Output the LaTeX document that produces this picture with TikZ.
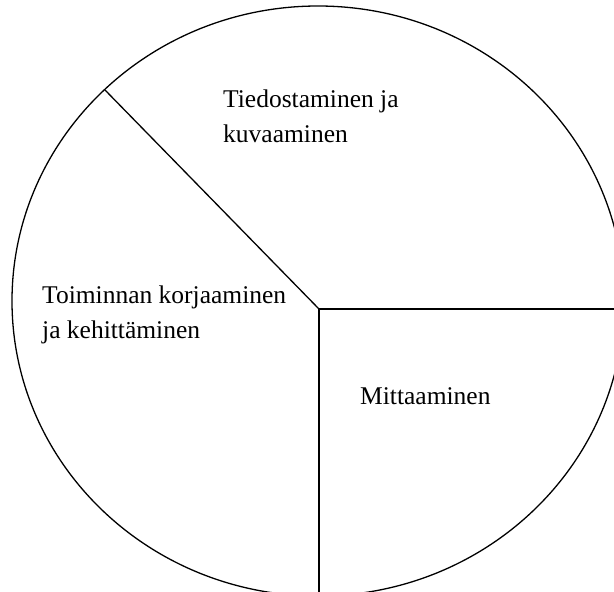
\documentclass[tikz,border=0pt]{standalone}
\usepackage{fontspec}
\setmainfont{Liberation Serif}
\begin{document}
\begin{tikzpicture}[x=1pt,y=-1pt,
  outline/.style={draw=black,line width=1.3pt},
  spoke/.style={draw=black,line width=1.3pt},
  lbl/.style={anchor=base west,inner sep=0pt,align=left,font=\fontsize{25.5}{34.5}\selectfont}]
\useasboundingbox (0,0) rectangle (614,592);
\clip (0,0) rectangle (614,592);
\fill[white] (0,0) rectangle (614,592);
\draw[outline] (318,301) ellipse [x radius=306, y radius=295];
\coordinate (c) at (319,309);
\coordinate (right) at (620,309);
\coordinate (bottom) at (319,600);
\coordinate (ul) at (105,90);
\draw[spoke] (c) -- (right);
\draw[spoke] (c) -- (bottom);
\draw[spoke] (c) -- (ul);
\node[lbl] (t1) at (223,142) {Tiedostaminen ja\\kuvaaminen};
\node[lbl] (t2) at (42,338) {Toiminnan korjaaminen\\ja kehittäminen};
\node[lbl] (t3) at (360,404) {Mittaaminen};
\end{tikzpicture}
\end{document}
